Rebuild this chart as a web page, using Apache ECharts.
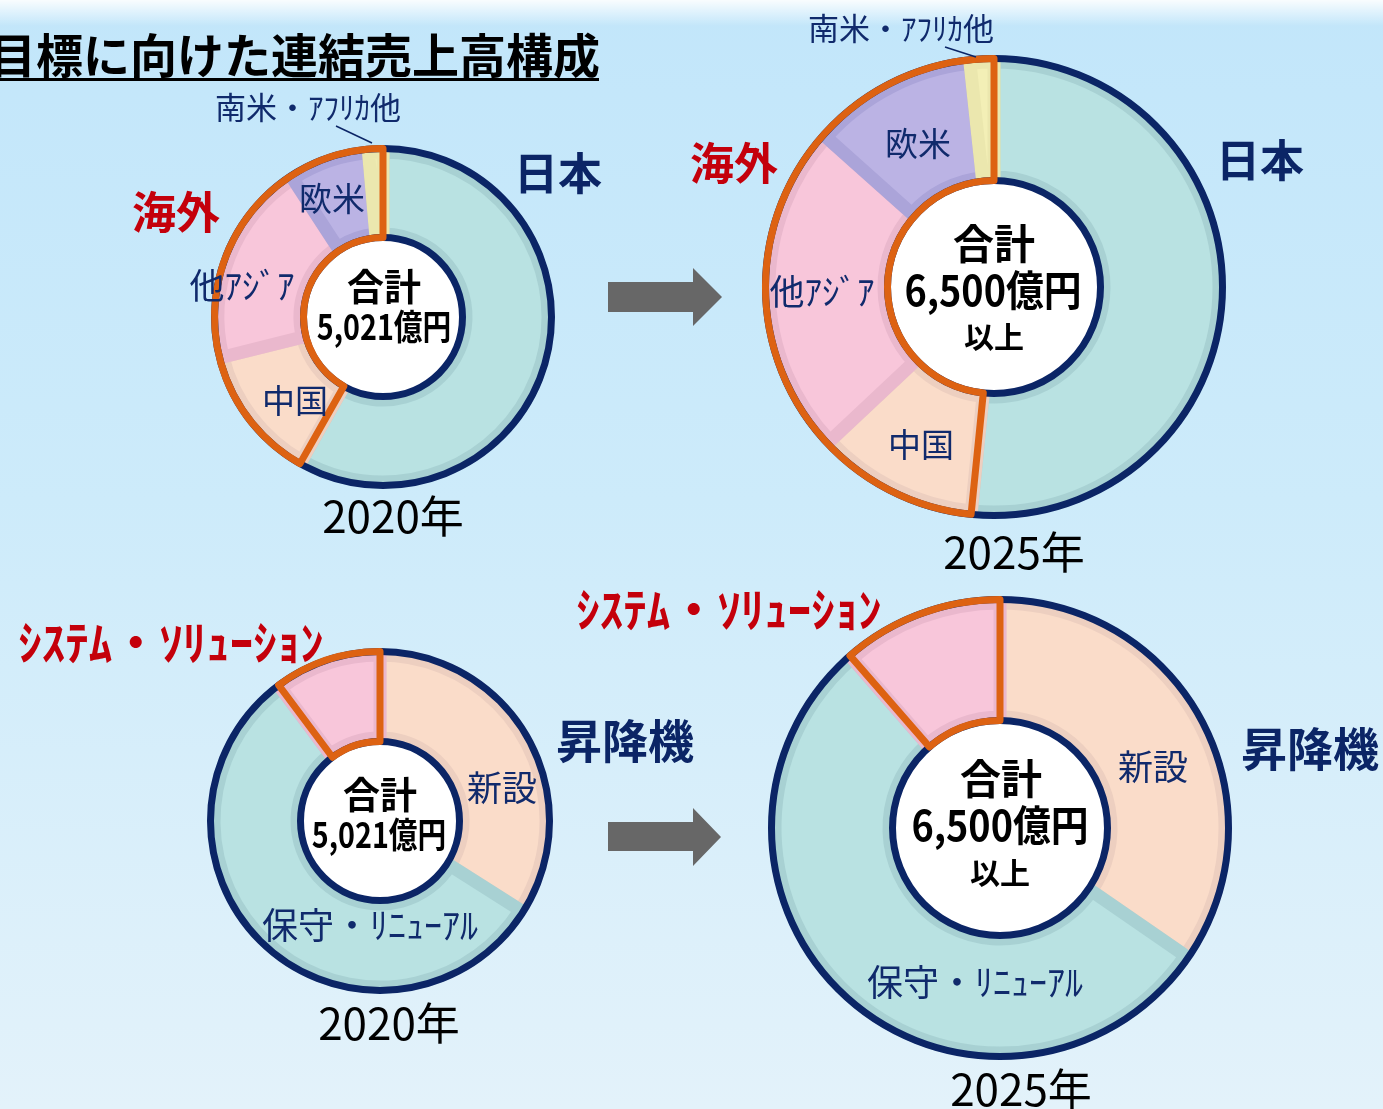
<!DOCTYPE html>
<html><head><meta charset="utf-8">
<script src="https://cdn.jsdelivr.net/npm/echarts@6/dist/echarts.min.js"></script>
<style>html,body{margin:0;padding:0;overflow:hidden;}#c{width:1383px;height:1109px;}</style>
</head><body><div id="c"></div>
<script>
// ---------- DATA ----------
const regionNames = ['日本', '中国', '他ｱｼﾞｱ', '欧米', '南米・ｱﾌﾘｶ他'];
const region2020 = [58.2, 12.9, 19.7, 7.8, 1.4];
const region2025 = [51.6, 11.4, 23.6, 11.7, 1.7];
const elevNames = ['新設', '保守・ﾘﾆｭｰｱﾙ', 'ｼｽﾃﾑ・ｿﾘｭｰｼｮﾝ'];
const elev2020 = [34.0, 55.8, 10.2];
const elev2025 = [34.6, 54.0, 11.4];
const years = ['2020年', '2025年'];
const totals = ['5,021億円', '6,500億円'];
const totalNotes = ['', '以上'];
const totalHead = '合計';
const groupOverseas = '海外';
const groupElevator = '昇降機';
const chartTitle = '目標に向けた連結売上高構成';

// ---------- STYLE ----------
const FONT = '"Noto Sans CJK JP", "Noto Sans", sans-serif';
const NAVY = '#0b2566';
const ORANGE = '#dd6212';
const RED = '#c4000b';
const LBL = '#102a6c';
const FILL = {teal:'#b9e2e2', peach:'#fadcc9', pink:'#f8c6da', purple:'#bbb3e4', yellow:'#f3efb6'};
const BAND = {teal:'#a8d1d3', peach:'#edcfc0', pink:'#eab8cd', purple:'#aba4d9', yellow:'#ebe7ae'};
const regionColors = ['teal', 'peach', 'pink', 'purple', 'yellow'];
const elevColors = ['peach', 'teal', 'pink'];

function labelStyles(kind) {
  if (kind === 'region') {
    return [
      {fontSize: 44, fontWeight: 'bold', color: NAVY},
      {fontSize: 33, color: LBL},
      {fontSize: 35, color: LBL},
      {fontSize: 33, color: LBL},
      {fontSize: 31, color: LBL}
    ];
  }
  return [
    {fontSize: 35, color: LBL},
    {fontSize: 36, color: LBL},
    {fontSize: 47, fontWeight: 'bold', color: RED}
  ];
}

const charts = [
  {cx: 383, cy: 317, r0: 83, r: 165, names: regionNames, values: region2020, colors: regionColors, orangeFrom: 1, kind: 'region',
   labelPos: [[558,173],[295,400],[242,286],[332,198],[308,107]]},
  {cx: 994, cy: 287, r0: 110, r: 225, names: regionNames, values: region2025, colors: regionColors, orangeFrom: 1, kind: 'region',
   labelPos: [[1260,160],[921,444],[822,292],[918,143],[901,28]]},
  {cx: 380, cy: 821, r0: 83, r: 166, names: elevNames, values: elev2020, colors: elevColors, orangeFrom: 2, kind: 'elev',
   labelPos: [[502,788],[370,925],[171,642]]},
  {cx: 1000, cy: 828, r0: 111, r: 225, names: elevNames, values: elev2025, colors: elevColors, orangeFrom: 2, kind: 'elev',
   labelPos: [[1153,767],[975,982],[729,609]]}
];

const series = [];
charts.forEach((c) => {
  const center = [c.cx, c.cy];
  const base = {type: 'pie', center, startAngle: 90, clockwise: true, silent: true,
    label: {show: false}, labelLine: {show: false}, emphasis: {disabled: true}, animation: false};
  // slices
  series.push(Object.assign({}, base, {
    radius: [c.r0, c.r], z: 2,
    data: c.names.map((n, i) => ({name: n, value: c.values[i],
      itemStyle: {color: FILL[c.colors[i]], borderColor: BAND[c.colors[i]], borderWidth: 13}}))
  }));
  // white centre disk
  series.push(Object.assign({}, base, {
    radius: [0, c.r0 - 3.5], z: 3,
    data: [{value: 1, itemStyle: {color: '#ffffff', borderWidth: 0}}]
  }));
  // navy outline ring
  series.push(Object.assign({}, base, {
    radius: [c.r0 - 3.5, c.r + 3.5], z: 4,
    data: [{value: 1, itemStyle: {color: 'rgba(0,0,0,0)', borderColor: NAVY, borderWidth: 7}}]
  }));
  // orange outline around group
  const rest = c.values.slice(0, c.orangeFrom).reduce((a, b) => a + b, 0);
  const grp = c.values.slice(c.orangeFrom).reduce((a, b) => a + b, 0);
  series.push(Object.assign({}, base, {
    radius: [c.r0 - 3.5, c.r + 3.5], z: 5,
    data: [
      {value: rest, itemStyle: {color: 'rgba(0,0,0,0)', borderWidth: 0}},
      {value: grp, itemStyle: {color: 'rgba(0,0,0,0)', borderColor: ORANGE, borderWidth: 7}}
    ]
  }));
  // labels carrier
  const ls = labelStyles(c.kind);
  series.push(Object.assign({}, base, {
    radius: [c.r0, c.r], z: 6,
    label: {show: true, position: 'inside', fontFamily: FONT, formatter: '{b}'},
    labelLayout: (p) => ({x: c.labelPos[p.dataIndex][0], y: c.labelPos[p.dataIndex][1], align: 'center', verticalAlign: 'middle'}),
    data: c.names.map((n, i) => ({name: n, value: c.values[i],
      itemStyle: {color: 'rgba(0,0,0,0)', borderWidth: 0},
      label: Object.assign({fontFamily: FONT}, ls[i])}))
  }));
});

// ---------- GRAPHICS ----------
function txt(x, y, text, size, weight, color, extra) {
  return Object.assign({type: 'text', x, y, z: 20,
    style: {text, fontSize: size, fontWeight: weight, fontFamily: FONT, fill: color, align: 'center', verticalAlign: 'middle'}}, extra || {});
}
function arrow(y0, y1, h0, h1, x0, xb, xt) {
  const ym = (h0 + h1) / 2;
  return {type: 'polygon', z: 20, shape: {points: [[x0,y0],[xb,y0],[xb,h0],[xt,ym],[xb,h1],[xb,y1],[x0,y1]]}, style: {fill: '#676767'}};
}
const graphics = [
  {type: 'rect', z: 1, shape: {x: 0, y: 0, width: 1383, height: 26},
   style: {fill: new echarts.graphic.LinearGradient(0, 0, 0, 1, [{offset: 0, color: 'rgba(255,255,255,0.9)'}, {offset: 1, color: 'rgba(255,255,255,0)'}])}},
  {type: 'text', x: 600, y: 55, z: 20, style: {text: chartTitle, fontSize: 47, fontWeight: 'bold', fontFamily: FONT, fill: '#000', align: 'right', verticalAlign: 'middle'}},
  {type: 'rect', z: 20, shape: {x: 0, y: 78, width: 599, height: 3}, style: {fill: '#000'}},
  arrow(282, 312, 268, 326, 608, 693, 722),
  arrow(822, 851, 808, 866, 608, 693, 721),
  txt(176, 212, groupOverseas, 44, 'bold', RED),
  txt(734, 163, groupOverseas, 44, 'bold', RED),
  txt(625, 741, groupElevator, 46, 'bold', NAVY),
  txt(1310, 749, groupElevator, 46, 'bold', NAVY),
  {type: 'line', z: 20, shape: {x1: 336, y1: 126, x2: 372, y2: 143}, style: {stroke: NAVY, lineWidth: 1.5}},
  {type: 'line', z: 20, shape: {x1: 945, y1: 47, x2: 976, y2: 57}, style: {stroke: NAVY, lineWidth: 1.5}},
  // centre texts
  txt(384, 287, totalHead, 37, 'bold', '#000'),
  txt(384, 327, totals[0], 35, 'bold', '#000', {scaleX: 0.82}),
  txt(994, 243, totalHead, 41, 'bold', '#000'),
  txt(993, 290, totals[1], 42, 'bold', '#000', {scaleX: 0.9}),
  txt(994, 337, totalNotes[1], 30, 'bold', '#000'),
  txt(380, 795, totalHead, 37, 'bold', '#000'),
  txt(379, 835, totals[0], 35, 'bold', '#000', {scaleX: 0.82}),
  txt(1001, 778, totalHead, 41, 'bold', '#000'),
  txt(1000, 825, totals[1], 42, 'bold', '#000', {scaleX: 0.9}),
  txt(1000, 873, totalNotes[1], 30, 'bold', '#000'),
  // years
  txt(393, 516, years[0], 44, 'normal', '#000'),
  txt(1014, 552, years[1], 44, 'normal', '#000'),
  txt(389, 1023, years[0], 44, 'normal', '#000'),
  txt(1021, 1089, years[1], 44, 'normal', '#000')
];

const chart = echarts.init(document.getElementById('c'), null, {renderer: 'canvas'});
chart.setOption({
  animation: false,
  backgroundColor: new echarts.graphic.LinearGradient(0, 0, 0, 1, [
    {offset: 0, color: '#c2e6fa'}, {offset: 0.45, color: '#cdebfa'}, {offset: 1, color: '#e3f2fa'}]),
  series: series,
  graphic: graphics
});
</script>
</body></html>
